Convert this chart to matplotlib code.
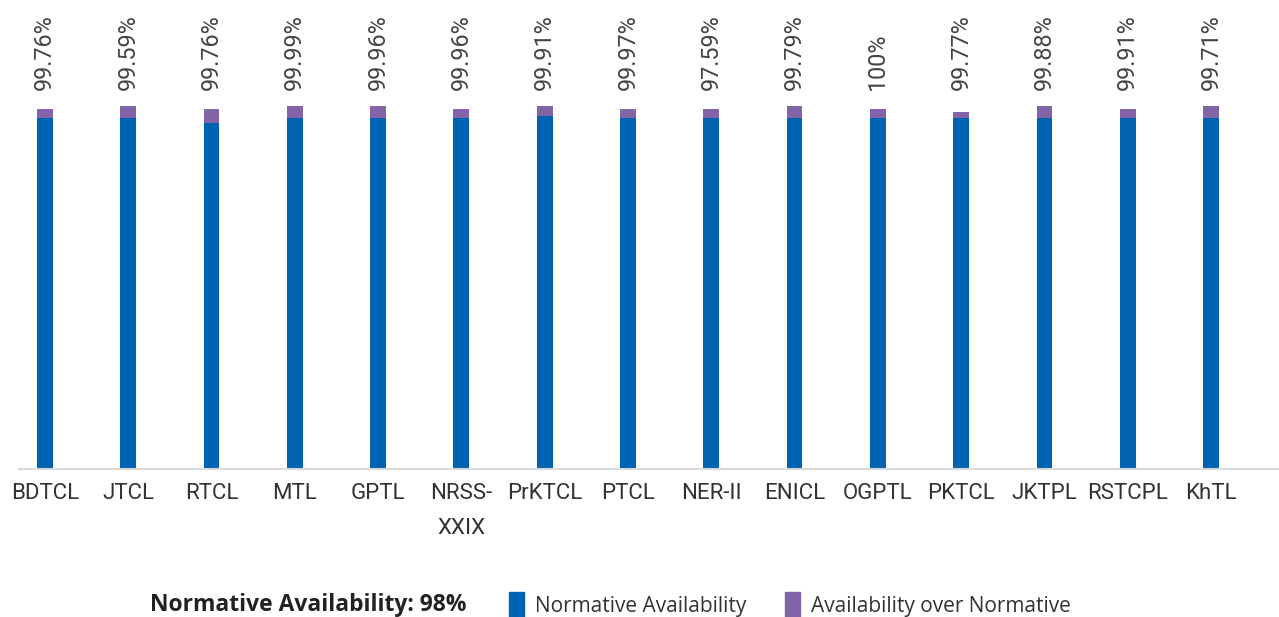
import matplotlib
matplotlib.use("Agg")
import matplotlib.pyplot as plt
from matplotlib.patches import Patch

categories = ["BDTCL", "JTCL", "RTCL", "MTL", "GPTL", "NRSS-\nXXIX", "PrKTCL", "PTCL",
              "NER-II", "ENICL", "OGPTL", "PKTCL", "JKTPL", "RSTCPL", "KhTL"]
normative = [98.0, 98.0, 96.6, 98.0, 98.0, 98.0, 98.6, 98.0, 98.0, 98.0, 98.0, 98.0, 98.0, 98.0, 98.0]
over_normative = [2.56, 3.4, 3.96, 3.4, 3.4, 2.56, 2.8, 2.56, 2.56, 3.4, 2.56, 1.7, 3.4, 2.56, 3.4]
value_labels = ["99.76%", "99.59%", "99.76%", "99.99%", "99.96%", "99.96%", "99.91%", "99.97%",
                "97.59%", "99.79%", "100%", "99.77%", "99.88%", "99.91%", "99.71%"]

BLUE = "#0063B1"
PURPLE = "#8464A8"
W, H = 1279, 617
fig = plt.figure(figsize=(W / 100, H / 100), dpi=100)
ax_left, ax_right, ax_bottom = 19, 1279, 469
ax = fig.add_axes([ax_left / W, (H - ax_bottom) / H, (ax_right - ax_left) / W, ax_bottom / H])

x = list(range(len(categories)))
ax.bar(x, normative, width=0.19, color=BLUE, zorder=2)
ax.bar(x, over_normative, width=0.19, bottom=normative, color=PURPLE, zorder=2)

ax.set_ylim(0, 131)
ax.set_xlim(-0.31, -0.31 + (ax_right - ax_left) / 83.3)

for xi, lab in zip(x, value_labels):
    ax.text(xi, 106.0, lab, rotation=90, ha="center", va="bottom",
            fontsize=16.8, color="#444444", family=["Roboto", "DejaVu Sans"])

for s in ["top", "right", "left"]:
    ax.spines[s].set_visible(False)
ax.spines["bottom"].set_color("#d9d9d9")
ax.spines["bottom"].set_linewidth(1.5)
ax.set_yticks([])
ax.set_xticks(x)
ax.set_xticklabels(categories, fontsize=16, color="#333333",
                   family=["Roboto", "DejaVu Sans"], linespacing=1.9)
ax.tick_params(axis="x", length=0, pad=10)

fig.text(150 / W, 1 - 605 / H, "Normative Availability: 98%", fontsize=16.5, fontweight="bold",
         color="#222222", va="center", ha="left", family=["Open Sans", "DejaVu Sans"])
handles = [Patch(color=BLUE, label="Normative Availability"),
           Patch(color=PURPLE, label="Availability over Normative")]
fig.legend(handles=handles, loc="center left", bbox_to_anchor=(490 / W, 1 - 605 / H), ncol=2,
           frameon=False, prop={"family": "Open Sans", "size": 15}, handlelength=0.75,
           handleheight=1.5, handletextpad=0.5, columnspacing=1.85, labelcolor="#333333")

fig.savefig("out.png", dpi=100)
